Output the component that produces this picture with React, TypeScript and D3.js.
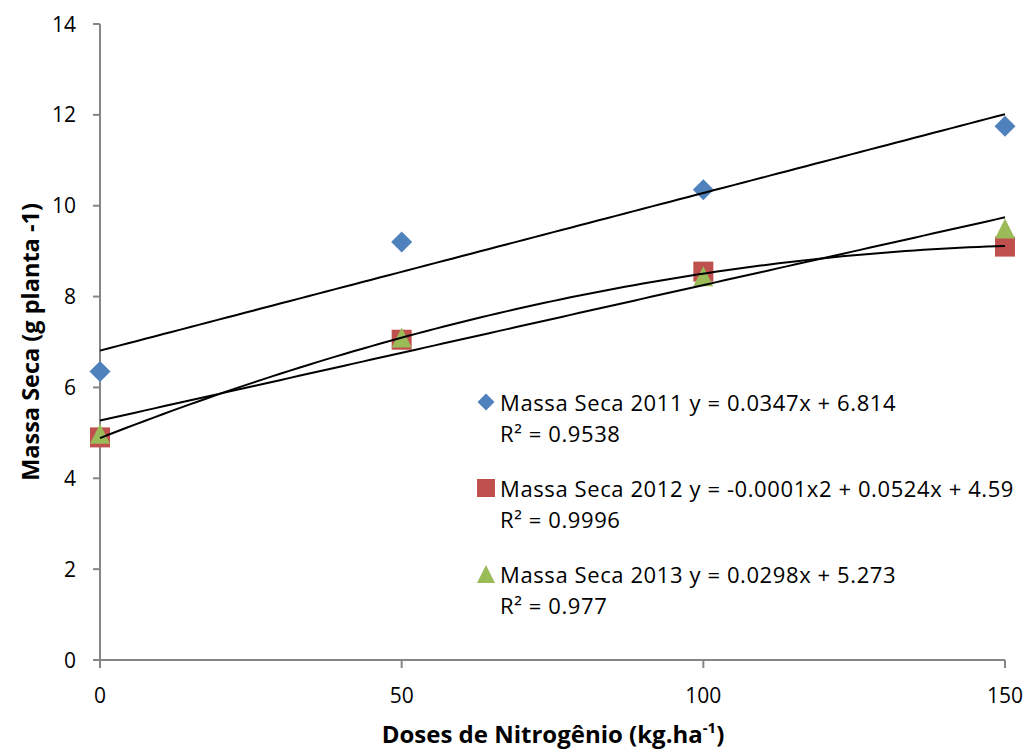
import React from "react";
import * as d3 from "d3";

// Nitrogen doses (kg/ha) and dry mass per plant (g) for each season
const doses = [0, 50, 100, 150];
const massa2011 = [6.35, 9.2, 10.35, 11.75];
const massa2012 = [4.9, 7.05, 8.55, 9.1];
const massa2013 = [4.98, 7.1, 8.45, 9.5];

const yTicks = [0, 2, 4, 6, 8, 10, 12, 14];
const xTicks = [0, 50, 100, 150];

const legendLines = [
  ["Massa Seca 2011 y = 0.0347x + 6.814", "R² = 0.9538"],
  ["Massa Seca 2012 y = -0.0001x2 + 0.0524x + 4.59", "R² = 0.9996"],
  ["Massa Seca 2013 y = 0.0298x + 5.273", "R² = 0.977"],
];

const colors = ["#4F81BD", "#C0504D", "#9BBB59"];
const shapeNames = ["diamond", "square", "triangle"];

// Marker outline centred on (0,0) with overall width/height s
function markerPath(kind: string, s: number): string {
  const h = s / 2;
  const p = d3.path();
  if (kind === "diamond") {
    p.moveTo(0, -h);
    p.lineTo(h, 0);
    p.lineTo(0, h);
    p.lineTo(-h, 0);
  } else if (kind === "square") {
    p.rect(-h, -h, s, s);
    return p.toString();
  } else {
    p.moveTo(0, -h);
    p.lineTo(h, h);
    p.lineTo(-h, h);
  }
  p.closePath();
  return p.toString();
}

// Least-squares polynomial fit (degree 1 or 2) returning coefficients [a, b, c]
function polyFit(xs: number[], ys: number[], degree: number): number[] {
  const n = degree + 1;
  const A: number[][] = [];
  for (let i = 0; i < n; i++) {
    A.push([]);
    for (let j = 0; j < n; j++) A[i].push(d3.sum(xs, (x) => Math.pow(x, i + j)));
    A[i].push(d3.sum(xs, (x, k) => Math.pow(x, i) * ys[k]));
  }
  for (let i = 0; i < n; i++) {
    for (let k = i + 1; k < n; k++) {
      const f = A[k][i] / A[i][i];
      for (let j = i; j <= n; j++) A[k][j] -= f * A[i][j];
    }
  }
  const coef = new Array(n).fill(0);
  for (let i = n - 1; i >= 0; i--) {
    let s = A[i][n];
    for (let j = i + 1; j < n; j++) s -= A[i][j] * coef[j];
    coef[i] = s / A[i][i];
  }
  return coef;
}

const FONT = "'Open Sans', Lato, sans-serif";

export default function App() {
  const width = 1030;
  const height = 752;
  const x = d3.scaleLinear().domain([0, 150]).range([100, 1005]);
  const y = d3.scaleLinear().domain([0, 14]).range([660, 24]);

  const series = [massa2011, massa2012, massa2013];
  const degrees = [1, 2, 1];
  const fits = series.map((s, i) => polyFit(doses, s, degrees[i]));
  const fineX = d3.range(0, 150.001, 1.5);
  const line = d3
    .line<number[]>()
    .x((d) => x(d[0]))
    .y((d) => y(d[1]));

  const markerSizes = [21, 20, 20];
  const axisColor = "#868686";

  return (
    <svg
      width={width}
      height={height}
      style={{ position: "absolute", left: 0, top: 0, background: "#fff" }}
      fontFamily={FONT}
    >
      {/* axes */}
      <line x1={x(0)} x2={x(0)} y1={y(14)} y2={668} stroke={axisColor} strokeWidth={2} />
      <line x1={93} x2={x(150)} y1={y(0)} y2={y(0)} stroke={axisColor} strokeWidth={2} />
      {yTicks.map((t) => (
        <g key={"y" + t}>
          <line x1={93} x2={x(0)} y1={y(t)} y2={y(t)} stroke={axisColor} strokeWidth={2} />
          <text x={76} y={y(t) + 7.5} textAnchor="end" fontSize={21} fill="#000">
            {t}
          </text>
        </g>
      ))}
      {xTicks.map((t) => (
        <g key={"x" + t}>
          <line x1={x(t)} x2={x(t)} y1={y(0)} y2={668} stroke={axisColor} strokeWidth={2} />
          <text x={x(t)} y={703} textAnchor="middle" fontSize={21} fill="#000">
            {t}
          </text>
        </g>
      ))}

      {/* markers */}
      {series.map((s, i) =>
        s.map((v, k) => (
          <path
            key={`m${i}-${k}`}
            d={markerPath(shapeNames[i], markerSizes[i])}
            transform={`translate(${x(doses[k])},${y(v)})`}
            fill={colors[i]}
          />
        ))
      )}

      {/* trend lines */}
      {fits.map((c, i) => (
        <path
          key={"f" + i}
          d={
            line(
              fineX.map((xx) => [xx, c.reduce((acc, ci, p) => acc + ci * Math.pow(xx, p), 0)])
            ) || ""
          }
          fill="none"
          stroke="#000"
          strokeWidth={2}
        />
      ))}

      {/* legend */}
      {legendLines.map((l, i) => (
        <g key={"l" + i} transform={`translate(0, ${i * 86})`}>
          <path
            d={markerPath(shapeNames[i], i === 0 ? 17 : 18)}
            transform={`translate(486, 402)`}
            fill={colors[i]}
          />
          <text x={500} y={411} fontSize={22} letterSpacing={0.6} fill="#000">
            {l[0]}
          </text>
          <text x={500} y={442} fontSize={22} letterSpacing={0.6} fill="#000">
            {l[1]}
          </text>
        </g>
      ))}

      {/* axis titles */}
      <text x={553} y={743} textAnchor="middle" fontSize={24} fontWeight="bold" fill="#000">
        Doses de Nitrogênio (kg.ha
        <tspan dy={-10} fontSize={15}>-1</tspan>
        <tspan dy={10}>)</tspan>
      </text>
      <text
        transform={`translate(39, 342) rotate(-90)`}
        textAnchor="middle"
        fontSize={23.5}
        fontWeight="bold"
        fill="#000"
      >
        Massa Seca (g planta -1)
      </text>
    </svg>
  );
}
